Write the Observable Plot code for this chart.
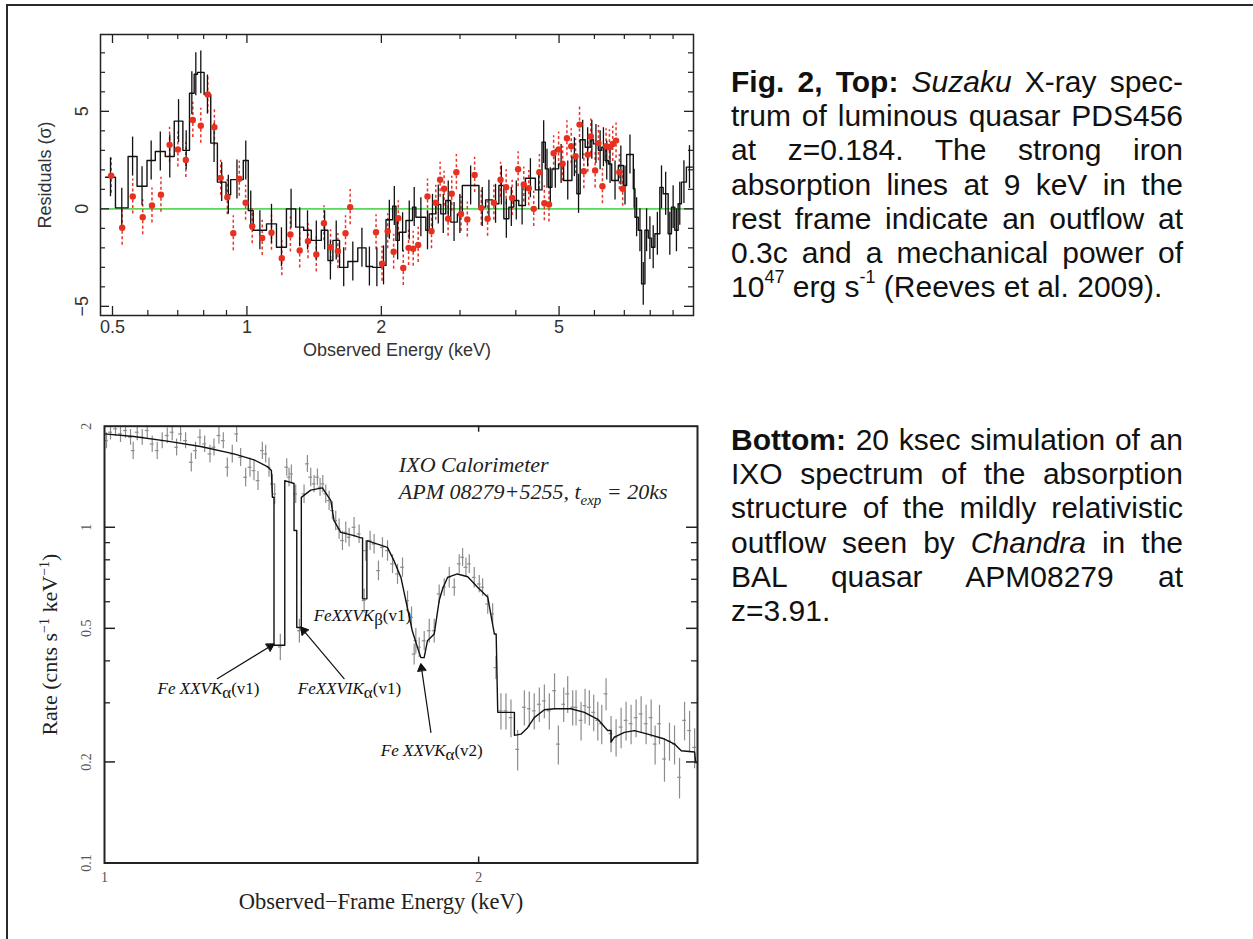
<!DOCTYPE html>
<html><head><meta charset="utf-8">
<script src="https://cdn.jsdelivr.net/npm/d3@7"></script>
<script src="https://cdn.jsdelivr.net/npm/@observablehq/plot@0.6"></script>
<style>
html,body{margin:0;padding:0;background:#fff;}
#page{position:relative;width:1253px;height:939px;overflow:hidden;background:#fff;}
.bt{position:absolute;left:6px;top:4px;width:1247px;height:2px;background:#2a2a2a;}
.bl{position:absolute;left:6px;top:4px;width:2px;height:935px;background:#2a2a2a;}
#topPlot{position:absolute;left:0;top:0;}
#botPlot{position:absolute;left:0;top:400px;}
.cap{position:absolute;left:731px;width:452px;font-family:"Liberation Sans",Arial,Helvetica,sans-serif;font-size:30px;line-height:34.2px;color:#111;}
.cap div{text-align:justify;text-align-last:justify;height:34.2px;}
.cap div.last{text-align:left;text-align-last:left;}
.cap sup{font-size:0.6em;line-height:0;position:relative;top:-0.15em;}
</style></head>
<body><div id="page">
<div class="bt"></div><div class="bl"></div>
<div id="topPlot"></div>
<div id="botPlot"></div>
<div class="cap" style="top:65px">
<div><b>Fig. 2, Top:</b> <i>Suzaku</i> X-ray spec-</div>
<div>trum of luminous quasar PDS456</div>
<div>at z=0.184. The strong iron</div>
<div>absorption lines at 9 keV in the</div>
<div>rest frame indicate an outflow at</div>
<div>0.3c and a mechanical power of</div>
<div class="last">10<sup>47</sup> erg s<sup>-1</sup> (Reeves et al. 2009).</div>
</div>
<div class="cap" style="top:423px">
<div><b>Bottom:</b> 20 ksec simulation of an</div>
<div>IXO spectrum of the absorption</div>
<div>structure of the mildly relativistic</div>
<div>outflow seen by <i>Chandra</i> in the</div>
<div>BAL quasar APM08279 at</div>
<div class="last">z=3.91.</div>
</div>
</div>
<script>
// ---------- TOP PANEL DATA (Suzaku residuals) ----------
const histEdges = [0.4823,0.5077,0.5419,0.5675,0.5974,0.6235,0.6564,0.6874,0.7187,0.7437,0.7618,0.7749,0.8019,0.8298,0.8587,0.8978,0.9195,0.9813,1.0069,1.0331,1.1063,1.1645,1.2259,1.2861,1.3400,1.3938,1.4672,1.5183,1.5578,1.6121,1.6826,1.7710,1.8485,1.9129,1.9965,2.0486,2.1199,2.1566,2.1938,2.2701,2.3491,2.3897,2.5155,2.5589,2.6479,2.7169,2.7876,2.8602,2.9597,3.0365,3.3079,3.4233,3.5424,3.6658,3.7612,3.8591,3.9592,4.0623,4.2036,4.4252,4.5792,4.6581,4.7389,4.8206,4.9883,5.1181,5.3419,5.4805,5.5756,5.7202,5.8691,5.9703,6.1257,6.2314,6.3389,6.4482,6.5594,6.7877,6.9644,7.0845,7.3317,7.3943,7.5218,7.6523,7.7843,7.9185,8.0551,8.1940,8.4073,8.5523,8.7750,8.9263,9.0803,9.2369,9.3971,9.6408];
const histEnd = 9.95;
const histResid = [1.62,0.05,2.68,1.16,2.48,2.94,2.68,4.5,3.0,5.93,6.9,7.0,5.86,3.37,1.37,0.72,1.5,2.48,-0.09,-1.1,-0.77,-1.97,0.0,-0.94,-1.1,-1.62,-1.1,-2.65,-1.62,-3.0,-2.7,-2.0,-2.96,-3.0,-2.9,-0.56,0.14,-1.62,-1.2,-0.6,0.09,-0.43,-1.1,-0.26,0.22,-0.26,0.43,-0.68,-0.26,1.2,0.09,0.46,0.26,1.2,-0.51,0.09,0.43,0.17,1.57,0.97,3.42,2.05,1.11,2.05,2.3,1.45,2.65,0.77,3.54,3.16,3.54,3.33,3.0,3.16,2.48,2.3,1.45,2.22,1.2,2.79,1.03,-0.43,-1.1,-3.85,-1.1,-1.5,-1.97,-1.28,1.1,0.77,-1.28,0.09,-1.1,0.26,1.37,2.14];
const histErr = [1.0,1.0,1.0,1.0,1.0,1.0,1.1,1.1,1.0,1.1,1.1,1.1,1.0,1.0,1.0,1.0,1.0,1.0,1.0,1.0,1.0,1.0,1.0,1.0,1.0,1.0,1.0,1.0,1.0,1.0,1.0,1.0,1.0,1.0,1.0,1.0,1.0,1.0,1.0,1.0,1.0,1.0,1.0,1.0,1.0,1.0,1.0,1.0,1.0,1.0,1.0,1.0,1.0,1.0,1.0,1.0,1.0,1.0,1.0,1.0,1.1,1.0,1.0,1.0,1.0,1.0,1.0,1.0,1.0,1.0,1.0,1.0,1.0,1.0,1.0,1.0,1.0,1.0,1.0,1.0,1.0,1.0,1.1,1.1,1.1,1.1,1.1,1.1,1.1,1.1,1.1,1.1,1.1,1.1,1.1,1.1];
const redE = [0.4966,0.5255,0.5550,0.5843,0.6129,0.6419,0.6711,0.7005,0.7298,0.7566,0.7883,0.8171,0.8456,0.8735,0.9039,0.9322,0.9614,0.9932,1.0278,1.0819,1.1350,1.1969,1.2513,1.3127,1.3701,1.4300,1.4875,1.5392,1.5983,1.6625,1.7029,1.9460,2.0069,2.0662,2.1308,2.1826,2.2393,2.3014,2.3572,2.4184,2.5373,2.5899,2.6479,2.7077,2.7638,2.8213,2.8749,2.9447,3.0159,3.1156,3.2353,3.3479,3.4585,3.5730,3.6973,3.8064,3.9254,4.0483,4.1680,4.2765,4.3876,4.5171,4.6344,4.7469,4.8618,4.9883,5.0918,5.2064,5.3236,5.4434,5.5565,5.6817,5.7996,5.8896,6.0222,6.1257,6.2528,6.3716,6.4821,6.5938,6.7075,6.8232,6.9409];
const redResid = [1.7,-0.97,0.63,-0.43,0.17,0.72,3.28,3.04,2.51,4.56,4.26,5.86,4.19,1.59,0.6,-1.25,1.54,0.31,-0.89,-1.49,-1.23,-2.53,-1.32,-2.14,-1.66,-2.34,-0.74,-1.97,-2.17,-1.25,0.09,-1.2,-2.82,-1.15,-2.2,-0.48,-3.03,-2.0,-2.05,-1.85,0.63,-1.15,0.31,1.49,1.03,-0.51,0.77,1.88,-0.26,-0.55,1.74,0.05,-0.51,0.31,1.49,1.11,0.56,2.03,1.25,1.06,0.0,1.88,0.29,0.22,2.85,3.04,2.31,3.62,3.21,2.7,4.32,1.93,2.77,3.71,1.97,3.37,1.16,3.21,3.16,3.33,3.5,1.88,1.03];
const redErr = [0.9,0.9,0.9,0.9,0.9,0.9,0.9,0.9,0.9,0.9,0.9,0.95,0.95,0.9,0.9,0.9,0.9,0.9,0.9,0.9,0.9,0.9,0.9,0.9,0.9,0.9,0.9,0.9,0.9,0.9,0.9,0.9,0.9,0.9,0.9,0.9,0.9,0.9,0.9,0.9,0.9,0.9,0.9,0.9,0.9,0.9,0.9,0.9,0.9,0.9,0.9,0.9,0.9,0.9,0.9,0.9,0.9,0.9,0.9,0.9,0.9,0.9,0.9,0.9,0.9,0.9,0.9,0.9,0.9,0.9,0.95,0.9,0.9,0.9,0.9,0.9,0.9,0.9,0.9,0.9,0.9,0.9,0.9];
const topXMajor = [0.5,1,2,5];
const topXMinor = [0.6,0.7,0.8,0.9,3,4,6,7,8,9];
const topYMajor = [-5,0,5];
const topYMinor = [-4,-3,-2,-1,1,2,3,4,6,7,8];

// ---------- BOTTOM PANEL DATA (IXO simulation) ----------
const simE = [1.0037,1.0112,1.0206,1.0301,1.0397,1.0494,1.0546,1.0625,1.0724,1.0824,1.0924,1.1026,1.1129,1.1233,1.1337,1.1429,1.1514,1.1621,1.1744,1.1838,1.1934,1.2038,1.2158,1.2248,1.2362,1.2462,1.2555,1.2671,1.2774,1.2869,1.2989,1.3094,1.3191,1.3290,1.3397,1.3480,1.3563,1.3648,1.3707,1.3850,
1.4016,1.4076,1.4137,1.4251,1.4349,1.4473,1.4563,1.4653,1.4745,1.4836,1.4909,1.4984,1.5067,1.5160,1.5254,1.5348,1.5444,1.5540,1.5636,1.5733,1.5878,1.6027,1.6177,1.6227,1.6357,1.6479,1.6612,1.6736,1.6894,1.7051,1.7209,1.7369,1.7531,1.7661,1.7748,1.7804,1.7915,1.8082,1.8251,1.8420,1.8590,1.8765,1.8940,1.9117,1.9294,1.9414,1.9535,1.9656,1.9837,2.0023,2.0148,2.0340,2.0525,2.0652,
2.0844,2.1039,2.1234,2.1499,2.1767,2.1968,2.2170,2.2380,2.2590,2.2798,2.3020,2.3182,2.3413,2.3587,2.3807,2.3955,2.4179,2.4358,2.4554,2.4752,2.4940,2.5123,2.5325,2.5560,2.5800,2.6041,2.6282,2.6527,2.6775,2.7025,2.7276,2.7531,2.7735,2.7961,2.8220,2.8483,2.8750,2.9017,2.9289,2.9562,2.9840];
const simRate = [1.812,1.919,1.964,1.897,1.942,1.854,1.692,1.919,1.854,1.942,1.771,1.692,1.812,1.876,1.919,1.731,1.897,1.812,1.562,1.692,1.854,1.771,1.654,1.731,1.876,1.812,1.509,1.654,1.897,1.616,1.409,1.509,1.475,1.377,1.692,1.654,1.509,1.346,1.257,0.44,
1.510,1.410,1.442,1.257,0.492,1.257,1.545,1.410,1.347,1.410,1.316,1.347,1.257,1.201,1.121,1.047,0.989,0.913,0.966,0.934,1.000,0.955,0.605,0.852,0.913,0.892,0.743,0.871,0.852,0.778,0.726,0.760,0.605,0.539,0.419,0.459,0.439,0.459,0.492,0.492,0.633,0.663,0.709,0.663,0.778,0.814,0.760,0.778,0.709,0.678,0.663,0.591,0.552,0.382,
0.284,0.284,0.271,0.218,0.291,0.288,0.284,0.297,0.304,0.284,0.326,0.226,0.297,0.319,0.291,0.291,0.266,0.294,0.291,0.281,0.266,0.260,0.319,0.243,0.237,0.254,0.266,0.260,0.271,0.278,0.260,0.271,0.226,0.260,0.204,0.231,0.226,0.180,0.266,0.248,0.221];
const simErr = [0.10,0.10,0.10,0.11,0.10,0.10,0.10,0.11,0.10,0.10,0.10,0.10,0.10,0.10,0.11,0.10,0.10,0.10,0.10,0.10,0.10,0.10,0.10,0.10,0.11,0.10,0.10,0.10,0.11,0.10,0.09,0.10,0.10,0.09,0.10,0.10,0.10,0.09,0.09,0.04,
0.09,0.09,0.09,0.08,0.04,0.08,0.09,0.09,0.08,0.08,0.08,0.08,0.08,0.08,0.07,0.07,0.07,0.06,0.07,0.06,0.07,0.06,0.05,0.06,0.06,0.06,0.05,0.06,0.06,0.05,0.05,0.05,0.04,0.04,0.03,0.04,0.03,0.03,0.04,0.04,0.04,0.04,0.05,0.04,0.05,0.05,0.05,0.05,0.05,0.04,0.04,0.04,0.04,0.03,
0.035,0.035,0.035,0.03,0.035,0.035,0.035,0.035,0.035,0.035,0.04,0.03,0.035,0.04,0.035,0.035,0.035,0.035,0.035,0.035,0.035,0.035,0.035,0.03,0.03,0.035,0.035,0.035,0.035,0.035,0.035,0.035,0.03,0.035,0.03,0.03,0.03,0.025,0.035,0.035,0.03];
const modelE = [1.000,1.0559,1.1233,1.1950,1.2711,1.3191,1.3522,1.3623,1.3648,1.3689,1.3689,1.3965,1.3965,1.4207,1.4207,1.4279,1.4279,1.4400,1.4400,1.4653,1.4974,1.521,1.530,1.549,1.588,1.608,1.613,1.613,1.626,1.626,1.689,1.710,1.732,1.748,1.769,1.786,1.797,1.808,1.819,1.842,1.859,1.871,1.888,1.923,1.960,1.996,2.034,2.059,2.066,2.072,2.137,2.137,2.163,2.190,2.217,2.259,2.302,2.373,2.433,2.494,2.540,2.556,2.556,2.572,2.620,2.669,2.736,2.822,2.875,2.911,2.984,2.990,3.000];
const modelRate = [1.897,1.863,1.805,1.740,1.654,1.588,1.517,1.475,1.228,1.228,0.445,0.445,1.377,1.350,0.978,0.978,0.503,0.503,1.228,1.290,1.310,1.200,1.047,0.966,0.944,0.930,0.930,0.612,0.612,0.912,0.871,0.794,0.708,0.603,0.490,0.438,0.409,0.409,0.459,0.481,0.605,0.656,0.709,0.726,0.712,0.663,0.619,0.481,0.481,0.281,0.281,0.240,0.242,0.253,0.271,0.286,0.288,0.288,0.281,0.268,0.248,0.248,0.229,0.237,0.245,0.248,0.242,0.234,0.226,0.216,0.214,0.199,0.199];
const botXTicks = [2];
const botXLabels = [1,2];
const botYMajor = [1,0.5,0.2];
const botYMinor = [0.9,0.8,0.7,0.6,0.4,0.3];
const botYLabels = [2,1,0.5,0.2,0.1];
// annotations (data coordinates: energy keV, rate)
const lineLabels = ["Fe XXVKα(v1)","FeXXVIKα(v1)","FeXXVKβ(v1)","Fe XXVKα(v2)"];
const lineLabelE = [1.1033,1.4305,1.4735,1.6686];
const lineLabelR = [0.3195,0.3195,0.527,0.2087];
const arrowFromE = [1.2324,1.5587,1.8307];
const arrowFromR = [0.354,0.354,0.245];
const arrowToE = [1.3689,1.4384,1.797];
const arrowToR = [0.449,0.504,0.392];
const titleLines = ["IXO Calorimeter","APM 08279+5255, t_exp = 20ks"];
const titleE = [1.7252,1.7252];
const titleR = [1.4587,1.2152];

// ---------- TOP PANEL ----------
const sans = "'Liberation Sans', Arial, Helvetica, sans-serif";
const serif = "'Liberation Serif', 'Times New Roman', Times, serif";
const T = {W:720,H:370,ml:100,mr:27,mt:34,mb:55};
const tIH = T.H-T.mt-T.mb, tIW = T.W-T.ml-T.mr;
const hist = histEdges.map((e,i)=>({x:e,y:histResid[i]})).concat([{x:histEnd,y:histResid[histResid.length-1]}]);
const histBars = histEdges.map((e,i)=>({x:Math.sqrt(e*(i+1<histEdges.length?histEdges[i+1]:histEnd)),y:histResid[i],e:histErr[i]}));
const red = redE.map((e,i)=>({x:e,y:redResid[i],e:redErr[i]}));
const minus = d=> d<0 ? "\u2212"+Math.abs(d) : String(d);
const topPlot = Plot.plot({
  width:T.W,height:T.H,marginLeft:T.ml,marginRight:T.mr,marginTop:T.mt,marginBottom:T.mb,
  style:{fontFamily:sans,background:"transparent",overflow:"visible"},
  x:{type:"log",domain:[0.47,10],axis:null},
  y:{domain:[-5.47,8.94],axis:null},
  marks:[
    Plot.ruleY([0],{stroke:"#5cd65c",strokeWidth:1.6}),
    Plot.ruleX(red,{x:"x",y1:d=>d.y-d.e,y2:d=>d.y+d.e,stroke:"#e8342a",strokeWidth:1.5,strokeDasharray:"3,2.5"}),
    Plot.line(hist,{x:"x",y:"y",curve:"step-after",stroke:"#111",strokeWidth:1.4}),
    Plot.ruleX(histBars,{x:"x",y1:d=>d.y-d.e,y2:d=>d.y+d.e,stroke:"#111",strokeWidth:1.3}),
    Plot.dot(red,{x:"x",y:"y",r:3.2,fill:"#e8301f"}),
    Plot.frame({stroke:"#222",strokeWidth:1.5}),
    Plot.ruleX(topXMajor,{x:d=>d,insetTop:tIH-9,stroke:"#222",strokeWidth:1.3}),
    Plot.ruleX(topXMajor,{x:d=>d,insetBottom:tIH-9,stroke:"#222",strokeWidth:1.3}),
    Plot.ruleX(topXMinor,{x:d=>d,insetTop:tIH-5,stroke:"#222",strokeWidth:1.2}),
    Plot.ruleX(topXMinor,{x:d=>d,insetBottom:tIH-5,stroke:"#222",strokeWidth:1.2}),
    Plot.ruleY(topYMajor,{y:d=>d,insetRight:tIW-9,stroke:"#222",strokeWidth:1.3}),
    Plot.ruleY(topYMajor,{y:d=>d,insetLeft:tIW-9,stroke:"#222",strokeWidth:1.3}),
    Plot.ruleY(topYMinor,{y:d=>d,insetRight:tIW-5,stroke:"#222",strokeWidth:1.2}),
    Plot.ruleY(topYMinor,{y:d=>d,insetLeft:tIW-5,stroke:"#222",strokeWidth:1.2}),
    Plot.text(topXMajor,{x:d=>d,text:d=>String(d),frameAnchor:"bottom",dy:17,fontSize:18,fill:"#333"}),
    Plot.text(topYMajor,{y:d=>d,text:minus,frameAnchor:"left",textAnchor:"middle",dx:-18,rotate:-90,fontSize:18,fill:"#333"}),
    Plot.text(["Observed Energy (keV)"],{frameAnchor:"bottom",dy:40,fontSize:18,fill:"#333"}),
    Plot.text(["Residuals (\u03c3)"],{frameAnchor:"left",textAnchor:"middle",dx:-55,rotate:-90,fontSize:18,fill:"#333"})
  ]
});
document.getElementById("topPlot").appendChild(topPlot);

// ---------- BOTTOM PANEL ----------
const B = {W:720,H:539,ml:104,mr:23,mt:25.7,mb:76.5};
const bIH = B.H-B.mt-B.mb, bIW = B.W-B.ml-B.mr;
const sim = simE.map((e,i)=>({x:e,y:simRate[i],e:simErr[i]}));
const model = modelE.map((e,i)=>({x:e,y:modelRate[i]}));
const labels = lineLabels.map((t,i)=>({t,x:lineLabelE[i],y:lineLabelR[i]}));
const arrows = arrowFromE.map((e,i)=>({x1:e,y1:arrowFromR[i],x2:arrowToE[i],y2:arrowToR[i]}));
const titles = titleLines.map((t,i)=>({t,x:titleE[i],y:titleR[i]}));
const botPlot = Plot.plot({
  width:B.W,height:B.H,marginLeft:B.ml,marginRight:B.mr,marginTop:B.mt,marginBottom:B.mb,
  style:{fontFamily:serif,background:"transparent",overflow:"visible"},
  x:{type:"log",domain:[1,3],axis:null},
  y:{type:"log",domain:[0.1,2],axis:null},
  marks:[
    Plot.ruleX(sim,{x:"x",y1:d=>d.y-d.e,y2:d=>d.y+d.e,stroke:"#8c8c8c",strokeWidth:1.2,clip:true}),
    Plot.ruleY(sim,{y:"y",x1:d=>d.x/1.0035,x2:d=>d.x*1.0035,stroke:"#8c8c8c",strokeWidth:1.2}),
    Plot.line(model,{x:"x",y:"y",stroke:"#111",strokeWidth:1.4}),
    Plot.frame({stroke:"#222",strokeWidth:2}),
    Plot.ruleX(botXTicks,{x:d=>d,insetTop:bIH-6,stroke:"#222",strokeWidth:1.5}),
    Plot.ruleX(botXTicks,{x:d=>d,insetBottom:bIH-6,stroke:"#222",strokeWidth:1.5}),
    Plot.ruleY(botYMajor,{y:d=>d,insetRight:bIW-11,stroke:"#222",strokeWidth:1.5}),
    Plot.ruleY(botYMajor,{y:d=>d,insetLeft:bIW-11,stroke:"#222",strokeWidth:1.5}),
    Plot.ruleY(botYMinor,{y:d=>d,insetRight:bIW-6,stroke:"#222",strokeWidth:1.3}),
    Plot.ruleY(botYMinor,{y:d=>d,insetLeft:bIW-6,stroke:"#222",strokeWidth:1.3}),
    Plot.text(botXLabels,{x:d=>d,text:d=>String(d),frameAnchor:"bottom",dy:19,fontSize:14,fill:"#555"}),
    Plot.text(botYLabels,{y:d=>d,text:d=>String(d),frameAnchor:"left",textAnchor:"middle",dx:-18,rotate:-90,fontSize:14,fill:"#555"}),
    Plot.text(["Observed\u2212Frame Energy (keV)"],{frameAnchor:"bottom",dx:-20,dy:46,fontSize:22.5,fill:"#222"}),
    Plot.text(["RATE_LABEL"],{frameAnchor:"left",textAnchor:"middle",dx:-55,rotate:-90,fontSize:22,fill:"#222"}),
    Plot.arrow(arrows,{x1:"x1",y1:"y1",x2:"x2",y2:"y2",stroke:"#111",strokeWidth:1.2,headLength:10}),
    Plot.text(labels,{x:"x",y:"y",text:"t",textAnchor:"start",lineAnchor:"bottom",fontSize:17,fontStyle:"italic",fill:"#111"}),
    Plot.text(titles,{x:"x",y:"y",text:"t",textAnchor:"start",lineAnchor:"bottom",fontSize:22,fontStyle:"italic",fill:"#222"})
  ]
});
document.getElementById("botPlot").appendChild(botPlot);

// rich text (sub/superscripts)
const rich = {
  "Fe XXVKα(v1)":'Fe XXVK<tspan dy="4" font-style="normal">α</tspan><tspan dy="-4" font-style="normal">(v1)</tspan>',
  "FeXXVIKα(v1)":'FeXXVIK<tspan dy="4" font-style="normal">α</tspan><tspan dy="-4" font-style="normal">(v1)</tspan>',
  "FeXXVKβ(v1)":'FeXXVK<tspan dy="4" font-style="normal">β</tspan><tspan dy="-4" font-style="normal">(v1)</tspan>',
  "Fe XXVKα(v2)":'Fe XXVK<tspan dy="4" font-style="normal">α</tspan><tspan dy="-4" font-style="normal">(v2)</tspan>',
  "APM 08279+5255, t_exp = 20ks":'APM 08279+5255, t<tspan dy="6" font-size="15">exp</tspan><tspan dy="-6"> = 20ks</tspan>',
  "RATE_LABEL":'Rate (cnts s<tspan dy="-8" font-size="14">\u22121</tspan><tspan dy="8"> keV</tspan><tspan dy="-8" font-size="14">\u22121</tspan><tspan dy="8">)</tspan>'
};
d3.select(botPlot).selectAll("text").each(function(){
  const t = this.textContent;
  if (rich[t]) this.innerHTML = rich[t];
});
// filled arrowheads
d3.select(botPlot).selectAll('g[aria-label="arrow"] path').each(function(){
  const n = (this.getAttribute("d").match(/-?\d+(\.\d+)?(e-?\d+)?/g)||[]).map(Number);
  if (n.length >= 10) {
    const [hx1,hy1,tx,ty,hx2,hy2] = n.slice(n.length-6);
    d3.select(this.parentNode).append("path")
      .attr("d",`M${hx1},${hy1}L${tx},${ty}L${hx2},${hy2}Z`)
      .attr("fill","#111").attr("stroke","#111").attr("stroke-width",0.8);
  }
});
</script>
</body></html>
